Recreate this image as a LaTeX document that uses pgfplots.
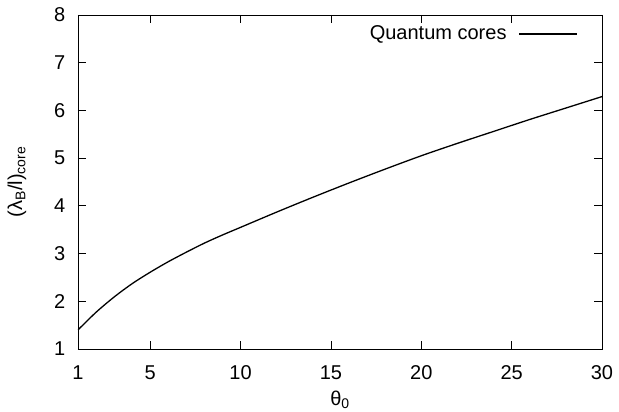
\documentclass[border=0pt]{standalone}
\usepackage{pgfplots}
\pgfplotsset{compat=1.18}
\usepackage{fontspec}
\setmainfont{Liberation Sans}

\begin{document}
\fontsize{20}{24}\selectfont
\begin{tikzpicture}
\begin{axis}[
    scale only axis,
    width=524pt, height=334pt,
    xmin=1, xmax=30, ymin=1, ymax=8,
    xtick={1,5,10,15,20,25,30},
    ytick={1,2,3,4,5,6,7,8},
    xtick pos=both, ytick pos=both,
    xtick align=inside, ytick align=inside,
    major tick length=8pt,
    axis line style={line width=0.8pt},
    every tick/.append style={black, line width=0.8pt},
    /pgf/number format/assume math mode=true,
    ticklabel style={font=\fontsize{20}{24}\selectfont},
    yticklabel style={xshift=-6pt},
    xticklabel style={yshift=-10pt},
    xlabel={θ\textsubscript{0}},
    ylabel={(λ\textsubscript{B}/l)\textsubscript{core}},
    xlabel style={at={(rel axis cs:0.5,0)}, anchor=center, yshift=-51pt},
    ylabel style={at={(rel axis cs:0,0.5)}, anchor=center, rotate=0, yshift=61pt},
    legend style={draw=none, fill=none, at={(rel axis cs:0.960,0.943)}, anchor=east,
                  font=\fontsize{20}{24}\selectfont},
    legend plot pos=right,
    legend image code/.code={\path (0pt,0pt); \draw[#1] (10pt,0pt) -- (68pt,0pt);},
]
\addplot[black, line width=1.3pt, smooth, tension=0.5] coordinates {
    (1,1.40) (2,1.77) (3,2.09) (4,2.37) (5,2.61) (6,2.83) (7,3.03)
    (8,3.22) (9,3.39) (10,3.55) (12,3.87) (14,4.18) (16,4.48)
    (18,4.77) (20,5.05) (22,5.31) (24,5.56) (26,5.81) (28,6.05) (30,6.29)
};
\addlegendentry{Quantum cores}
\end{axis}
\pgfresetboundingbox
\path (-78pt,-63pt) rectangle (541pt,349pt);
\end{tikzpicture}
\end{document}
